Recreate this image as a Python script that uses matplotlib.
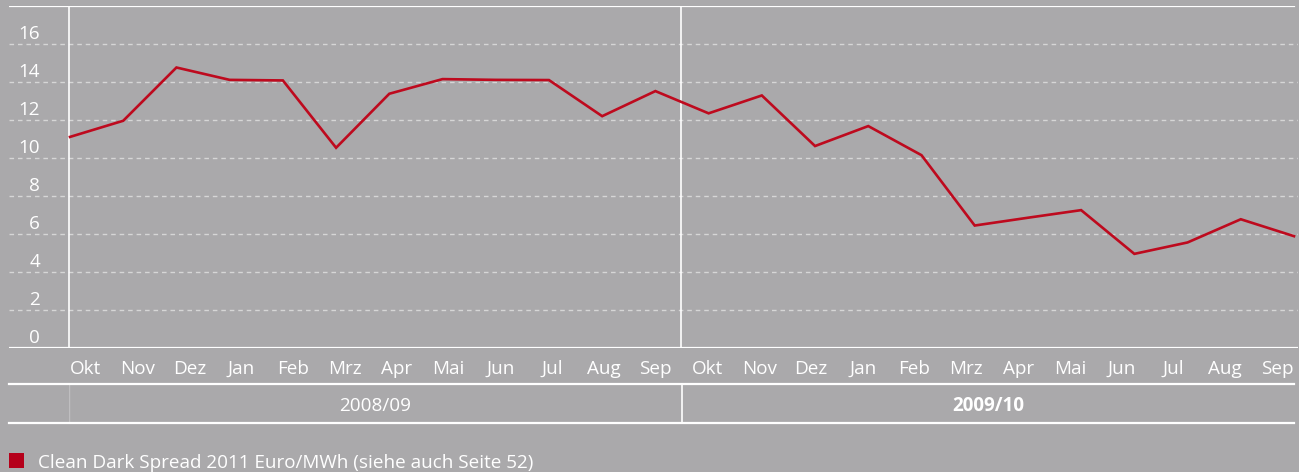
import matplotlib
matplotlib.use("Agg")
import matplotlib.pyplot as plt
from matplotlib.patches import Rectangle

plt.rcParams['font.family'] = ['Open Sans', 'DejaVu Sans']

# data: Clean Dark Spread, monthly, Okt 2008 .. Sep 2010 (Euro/MWh)
months = ["Okt", "Nov", "Dez", "Jan", "Feb", "Mrz", "Apr", "Mai", "Jun", "Jul", "Aug", "Sep"] * 2
years = ["2008/09", "2009/10"]
spread = [11.1, 11.95, 14.75, 14.1, 14.07, 10.53, 13.37, 14.14, 14.1, 14.09, 12.19, 13.51,
          12.34, 13.28, 10.62, 11.67, 10.14, 6.44, 6.85, 7.25, 4.95, 5.55, 6.77, 5.88]
yticks = [0, 2, 4, 6, 8, 10, 12, 14, 16]
legend_label = "Clean Dark Spread 2011 Euro/MWh (siehe auch Seite 52)"

BG = "#aaa9ab"
RED = "#be0a1e"
GRID = "#d6d6d6"
W, H = 1299, 472
FS = 13.6

fig = plt.figure(figsize=(W / 100, H / 100), dpi=100, facecolor=BG)


def px_axes(x0, y0, x1, y1):
    a = fig.add_axes([x0 / W, 1 - y1 / H, (x1 - x0) / W, (y1 - y0) / H])
    a.set_facecolor("none")
    a.axis("off")
    return a


# main plot: data index 0 sits at x=70px, index 23 at x=1294px
unit = (1294 - 70) / (len(spread) - 1)
ax = px_axes(9, 5.7, 1298, 348)
ax.set_ylim(0, 18)
ax.set_xlim(-(70 - 9) / unit, len(spread) - 1 + (1298 - 1294) / unit)

for v in yticks:
    if v > 0:
        ax.axhline(v, color=GRID, lw=1.0, dashes=(3.3, 2.8))
    ax.text(31 / 1289, v + 0.27, str(v), transform=ax.get_yaxis_transform(),
            ha="right", va="baseline", color="white", fontsize=FS)
ax.axhline(18, xmax=(1294 - 9) / 1289, color="white", lw=1.6)
ax.axhline(0, color="white", lw=1.6)
ax.axvline(-0.02, color="white", lw=1.2)
ax.axvline(11.48, color="white", lw=1.2)

ax.plot(range(len(spread)), spread, color=RED, lw=1.9, solid_joinstyle="miter", clip_on=False)

# month band
axm = px_axes(60, 348, 1303, 384)
axm.set_xlim(0, len(months))
axm.set_ylim(0, 1)
for i, m in enumerate(months):
    axm.text(i + 0.5, 0.28, m, ha="center", va="baseline", color="white", fontsize=FS)

# year band
axy = px_axes(69, 384, 1295, 423)
axy.set_xlim(0, 2)
axy.set_ylim(0, 1)
for i, yr in enumerate(years):
    axy.text(i + 0.5, 0.31, yr, ha="center", va="baseline", color="white", fontsize=FS,
             fontweight="bold" if i == 1 else "normal")
axy.axvline(1, color="white", lw=1.2)
axy.axvline(0, color="white", lw=1.0, alpha=0.25)

# frame lines of the bands
axb = px_axes(0, 0, W, H)
axb.set_xlim(0, W)
axb.set_ylim(H, 0)
axb.plot([9, 1294], [384, 384], color="white", lw=1.6)
axb.plot([9, 1294], [423, 423], color="white", lw=1.6)

# legend
axb.add_patch(Rectangle((9, 453), 15, 15, color="#b5001a", lw=0))
axb.text(38, 468.5, legend_label, ha="left", va="baseline", color="white", fontsize=FS)

fig.savefig("out.png", dpi=100, facecolor=BG)
